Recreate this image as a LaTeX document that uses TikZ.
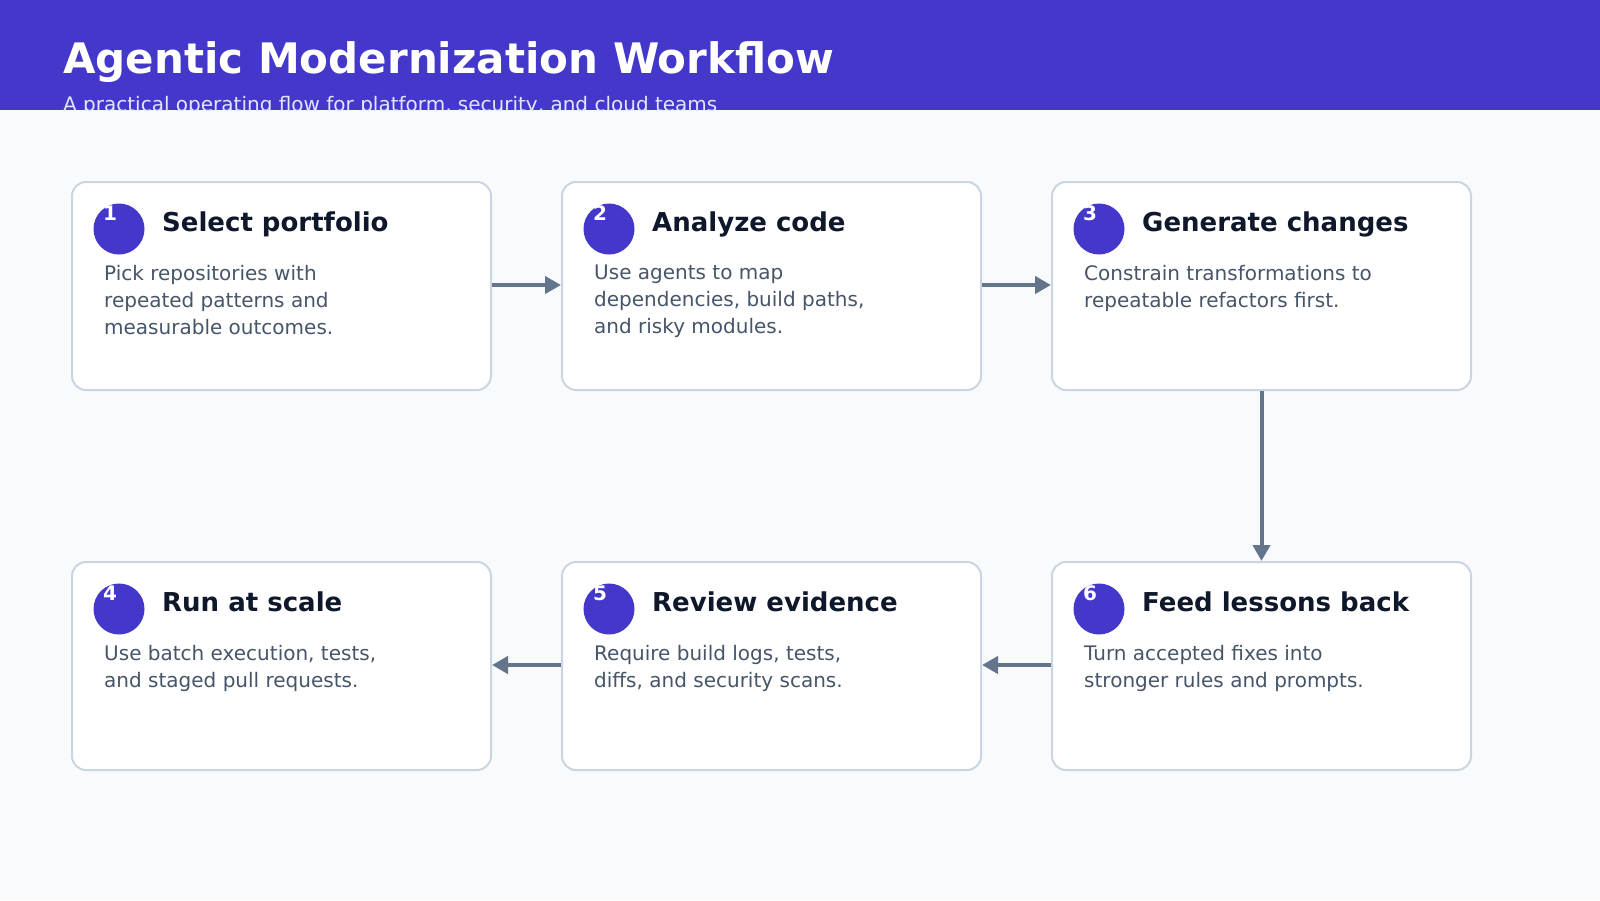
\documentclass[tikz,border=0pt]{standalone}
\usepackage{fontspec}
\setmainfont{DejaVu Sans}
\usetikzlibrary{arrows.meta}
\definecolor{hdr}{HTML}{4338CA}
\definecolor{bg}{HTML}{F8FAFC}
\definecolor{brd}{HTML}{CBD5E1}
\definecolor{arr}{HTML}{64748B}
\definecolor{ttl}{HTML}{0F172A}
\definecolor{bdy}{HTML}{475569}
\definecolor{sub}{HTML}{E0E7FF}
\tikzset{
 x=1pt,y=-1pt,
 card/.style={draw=brd,line width=2pt,fill=white,rounded corners=14pt,minimum width=419pt,minimum height=208pt,anchor=north west,inner sep=0pt},
 badge/.style={circle,fill=hdr,minimum size=51pt,inner sep=0pt},
 num/.style={text=white,font=\bfseries\fontsize{20}{20}\selectfont,inner sep=0pt},
 ctitle/.style={text=ttl,font=\bfseries\fontsize{26}{26}\selectfont,anchor=base west,inner sep=0pt},
 cbody/.style={text=bdy,font=\fontsize{20}{27}\selectfont,anchor=north west,inner sep=0pt,align=left},
 flow/.style={draw=arr,line width=4pt,-{Triangle[length=16pt,width=17pt]}}
}
\begin{document}
\begin{tikzpicture}
\fill[bg] (0,0) rectangle (1600,900);
\useasboundingbox (0,0) rectangle (1600,900);
\fill[hdr] (0,0) rectangle (1600,110);
\node[text=white,font=\bfseries\fontsize{42}{42}\selectfont,anchor=base west,inner sep=0pt] (title) at (63,73) {Agentic Modernization Workflow};
\begin{scope}
\clip (0,0) rectangle (1600,110);
\node[text=sub,font=\fontsize{20}{20}\selectfont,anchor=base west,inner sep=0pt] (subtitle) at (63,111) {A practical operating flow for platform, security, and cloud teams};
\end{scope}
\newcommand{\card}[6]{%
 \node[card] (#1) at (#2,#3) {};
 \node[badge] (#1b) at ([xshift=48pt,yshift=-48pt]#1.north west) {};
 \node[num] (#1n) at ([xshift=-9pt,yshift=16pt]#1b.center) {#4};
 \node[ctitle] (#1t) at ([xshift=91pt,yshift=-50pt]#1.north west) {#5};
 \node[cbody] (#1d) at ([xshift=33pt,yshift=-84pt]#1.north west) {#6};
}
\card{c1}{71}{181}{1}{Select portfolio}{Pick repositories with\\repeated patterns and\\measurable outcomes.}
\card{c2}{561}{181}{2}{Analyze code}{Use agents to map\\dependencies, build paths,\\and risky modules.}
\card{c3}{1051}{181}{3}{Generate changes}{Constrain transformations to\\repeatable refactors first.}
\card{c4}{71}{561}{4}{Run at scale}{Use batch execution, tests,\\and staged pull requests.}
\card{c5}{561}{561}{5}{Review evidence}{Require build logs, tests,\\diffs, and security scans.}
\card{c6}{1051}{561}{6}{Feed lessons back}{Turn accepted fixes into\\stronger rules and prompts.}
\draw[flow] ([yshift=-104pt]c1.north east) -- ([yshift=-104pt]c2.north west);
\draw[flow] ([yshift=-104pt]c2.north east) -- ([yshift=-104pt]c3.north west);
\draw[flow] (c3.south) -- (c6.north);
\draw[flow] ([yshift=-104pt]c6.north west) -- ([yshift=-104pt]c5.north east);
\draw[flow] ([yshift=-104pt]c5.north west) -- ([yshift=-104pt]c4.north east);
\end{tikzpicture}
\end{document}
